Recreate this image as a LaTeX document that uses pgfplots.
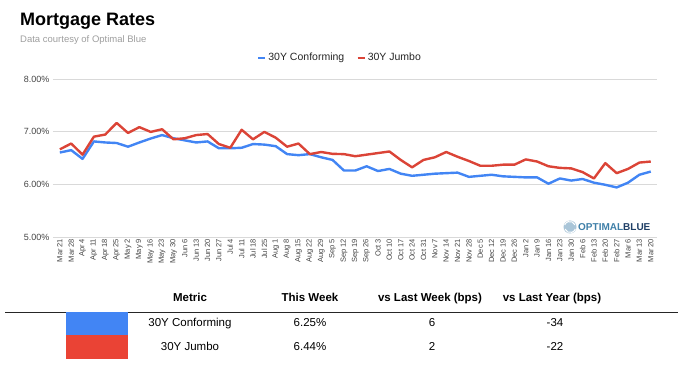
\documentclass[border=0pt]{standalone}
\usepackage{pgfplots}
\pgfplotsset{compat=1.18}
\usepackage{fontspec}
\setmainfont{Liberation Sans}
\definecolor{cblue}{HTML}{4285F4}
\definecolor{cred}{HTML}{DB4437}
\definecolor{tred}{HTML}{EA4335}
\definecolor{gridc}{HTML}{D9D9D9}
\definecolor{tickc}{HTML}{444444}
\definecolor{subc}{HTML}{9E9E9E}
\definecolor{logoa}{HTML}{3F7FA8}
\definecolor{logob}{HTML}{1F3F66}
\begin{document}
\begin{tikzpicture}[x=1pt,y=1pt]
\useasboundingbox (0,0) rectangle (678,367);
\node[anchor=base west, inner sep=0, font=\fontsize{18}{20}\selectfont\bfseries] at (20,341) {Mortgage Rates};
\node[anchor=base west, inner sep=0, font=\fontsize{9.5}{11}\selectfont, text=subc] at (20,324) {Data courtesy of Optimal Blue};
\begin{axis}[
  at={(53pt,129.3pt)}, anchor=south west, scale only axis,
  width=604pt, height=158.7pt,
  xmin=-0.6, xmax=52.55, ymin=5, ymax=8,
  axis line style={draw=none}, tick style={draw=none},
  ymajorgrids, grid style={gridc, line width=0.8pt},
  ytick={5,6,7,8},
  yticklabel={\pgfmathprintnumber[fixed,fixed zerofill,precision=2]{\tick}\%},
  /pgf/number format/assume math mode=true,
  y tick label style={font=\fontsize{9}{10}\selectfont, text=tickc},
  xtick={0,...,52},
  xticklabels={Mar 21,Mar 28,Apr 4,Apr 11,Apr 18,Apr 25,May 2,May 9,May 16,May 23,May 30,Jun 6,Jun 13,Jun 20,Jun 27,Jul 4,Jul 11,Jul 18,Jul 25,Aug 1,Aug 8,Aug 15,Aug 22,Aug 29,Sep 5,Sep 12,Sep 19,Sep 26,Oct 3,Oct 10,Oct 17,Oct 24,Oct 31,Nov 7,Nov 14,Nov 21,Nov 28,Dec 5,Dec 12,Dec 19,Dec 26,Jan 2,Jan 9,Jan 16,Jan 23,Jan 30,Feb 6,Feb 13,Feb 20,Feb 27,Mar 6,Mar 13,Mar 20},
  x tick label style={rotate=90, anchor=east, font=\fontsize{7.5}{8}\selectfont, text=tickc, inner sep=1pt},
  legend style={at={(0.475,1.133)}, anchor=center, draw=none, fill=none, legend columns=2, font=\fontsize{10.5}{12}\selectfont, text=black!85, /tikz/every even column/.append style={column sep=10pt}},
  legend image code/.code={\draw[#1, line width=2.5pt] (0pt,0pt) -- (7pt,0pt);},
]
\addplot[cblue, line width=2.4pt, line join=round] coordinates {
(0,6.61) (1,6.655) (2,6.49) (3,6.82) (4,6.80) (5,6.79) (6,6.72) (7,6.80) (8,6.875) (9,6.94)
(10,6.88) (11,6.84) (12,6.80) (13,6.82) (14,6.69) (15,6.69) (16,6.70) (17,6.77) (18,6.76) (19,6.73)
(20,6.58) (21,6.56) (22,6.58) (23,6.52) (24,6.47) (25,6.27) (26,6.27) (27,6.35) (28,6.26) (29,6.30)
(30,6.21) (31,6.17) (32,6.19) (33,6.21) (34,6.22) (35,6.23) (36,6.15) (37,6.17) (38,6.19) (39,6.16)
(40,6.15) (41,6.14) (42,6.14) (43,6.02) (44,6.12) (45,6.08) (46,6.11) (47,6.04) (48,6.00) (49,5.95)
(50,6.04) (51,6.19) (52,6.25)};
\addlegendentry{30Y Conforming}
\addplot[cred, line width=2.4pt, line join=round] coordinates {
(0,6.67) (1,6.78) (2,6.57) (3,6.91) (4,6.95) (5,7.17) (6,6.98) (7,7.09) (8,7.00) (9,7.05)
(10,6.86) (11,6.88) (12,6.94) (13,6.96) (14,6.77) (15,6.70) (16,7.04) (17,6.86) (18,7.00) (19,6.89)
(20,6.72) (21,6.78) (22,6.58) (23,6.62) (24,6.585) (25,6.58) (26,6.54) (27,6.57) (28,6.60) (29,6.63)
(30,6.47) (31,6.33) (32,6.47) (33,6.52) (34,6.62) (35,6.53) (36,6.45) (37,6.36) (38,6.36) (39,6.38)
(40,6.38) (41,6.48) (42,6.44) (43,6.35) (44,6.32) (45,6.31) (46,6.24) (47,6.12) (48,6.41) (49,6.22)
(50,6.30) (51,6.42) (52,6.44)};
\addlegendentry{30Y Jumbo}
\end{axis}
% logo
\fill[logoa!45] (570,140) circle (6.5);
\draw[white, line width=1pt] (565,138) arc (200:340:5.5);
\draw[white, line width=1pt] (575,142) arc (20:160:5.5);
\node[anchor=west, inner sep=0, font=\fontsize{10}{12}\selectfont\bfseries] at (578,140) {\textcolor{logoa}{OPTIMAL}\textcolor{logob}{BLUE}};
% table
\begin{scope}[font=\fontsize{11.5}{13}\selectfont\bfseries]
\node[anchor=base] at (190,65) {Metric};
\node[anchor=base] at (310,65) {This Week};
\node[anchor=base] at (430,65) {vs Last Week (bps)};
\node[anchor=base] at (552,65) {vs Last Year (bps)};
\end{scope}
\draw[line width=0.9pt, black!85] (5,55) -- (678,55);
\fill[cblue] (66,55) rectangle (128,31.5);
\fill[tred] (66,31.5) rectangle (128,7.5);
\begin{scope}[font=\fontsize{11.5}{13}\selectfont]
\node[anchor=mid] at (190,43) {30Y Conforming};
\node[anchor=mid] at (310,43) {6.25\%};
\node[anchor=mid] at (432,43) {6};
\node[anchor=mid] at (555,43) {-34};
\node[anchor=mid] at (190,19) {30Y Jumbo};
\node[anchor=mid] at (310,19) {6.44\%};
\node[anchor=mid] at (432,19) {2};
\node[anchor=mid] at (555,19) {-22};
\end{scope}
\end{tikzpicture}
\end{document}
